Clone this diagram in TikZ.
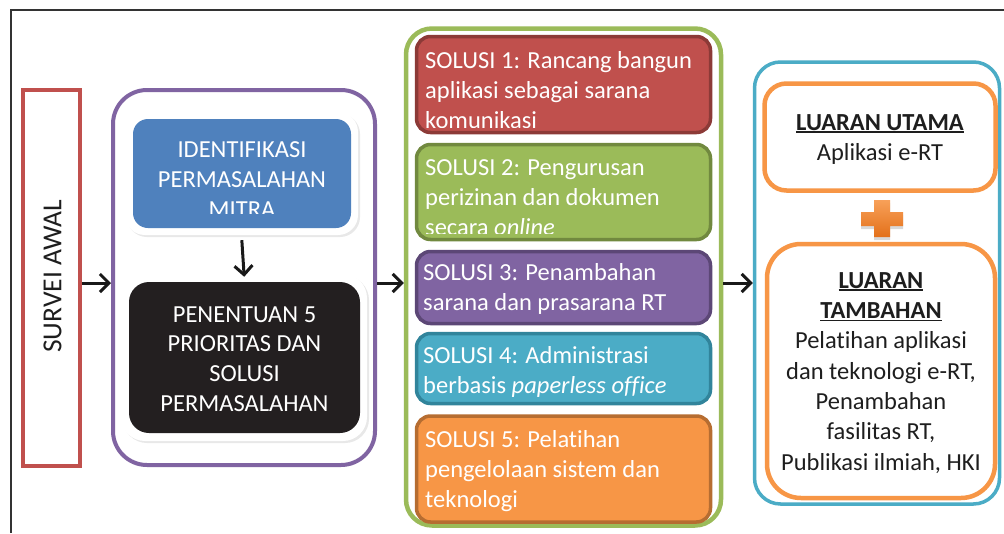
\documentclass[tikz,border=0pt]{standalone}
\usepackage{fontspec}
\setmainfont[Ligatures={NoCommon}]{Carlito}
\usetikzlibrary{arrows.meta,shadows}
\definecolor{redC}{HTML}{C0504D}
\definecolor{redD}{HTML}{8C3A37}
\definecolor{greenC}{HTML}{9BBB59}
\definecolor{greenD}{HTML}{71893F}
\definecolor{purpleC}{HTML}{8064A2}
\definecolor{purpleD}{HTML}{5C4776}
\definecolor{aquaC}{HTML}{4BACC6}
\definecolor{aquaD}{HTML}{31849B}
\definecolor{orangeC}{HTML}{F79646}
\definecolor{orangeD}{HTML}{B66D31}
\definecolor{orangeE}{HTML}{E3701A}
\definecolor{blueC}{HTML}{4F81BD}
\definecolor{blackC}{HTML}{231F20}
\definecolor{frameC}{HTML}{333333}
\definecolor{textC}{HTML}{1E1E1E}
\newcommand\fsmain{\fontsize{24.5}{30}\selectfont}
\newcommand\fsblack{\fontsize{24.5}{29.6}\selectfont}
\newcommand\fsright{\fontsize{24.5}{30.3}\selectfont}
\newcommand\strt{\rule{0pt}{17pt}}
\newcommand\myul[1]{\setbox0\hbox{#1}\rlap{\rule[-2.6pt]{\wd0}{1.6pt}}\box0}
\begin{document}
\begin{tikzpicture}[x=1pt,y=-1pt,
  cont/.style={draw=#1, line width=4, inner sep=0},
  arr/.style={line width=3, draw=black!90, -{Straight Barb[length=9pt,width=18pt,line width=3pt]}},
  glow/.style={fill=white, inner sep=0, drop shadow={opacity=0.18, shadow xshift=2pt, shadow yshift=-2pt}},
  wtext/.style={text=white, inner sep=0, font=\fsmain},
  solbox/.style={fill=#1C, draw=#1D, line width=3.5, rounded corners=14, minimum width=294, inner sep=0},
  soltext/.style={text=white, inner sep=0, font=\fsmain, align=left, anchor=north west},
  obox/.style={draw=orangeC, line width=4.5, inner sep=0},
  rtext/.style={text=textC, inner sep=0, font=\fsright, align=center, anchor=north}]
\useasboundingbox (0,0) rectangle (1004,533);
\fill[white] (0,0) rectangle (1004,533);
% outer frame
\draw[frameC, line width=1.6] (11,533) -- (11,10) -- (1004,10);

% survei awal
\node[cont=redC, minimum width=57, minimum height=376] (survei) at (51.5,277.5) {};
\node[rotate=90, inner sep=0, text=textC, font=\fontsize{27.5}{30}\selectfont] (surveit) at (52.5,276.5) {SURVEI AWAL};

% purple container
\node[cont=purpleC, rounded corners=34, minimum width=262, minimum height=375] (prob) at (244,277.5) {};
\node[glow, rounded corners=20, minimum width=233, minimum height=123] (identf) at (241.5,173.5) {};
\node[fill=blueC, rounded corners=15, minimum width=218, minimum height=109, inner sep=0] (ident) at (242,173.5) {};
\begin{scope}
\clip (133,119) rectangle (351,213);
\node[wtext, align=center, anchor=north] (identt) at (242,140) {\strt IDENTIFIKASI\\PERMASALAHAN\\MITRA};
\end{scope}
\node[glow, rounded corners=24, minimum width=246, minimum height=167] (pentf) at (244,357.5) {};
\node[fill=blackC, rounded corners=20, minimum width=231, minimum height=151, inner sep=0] (pent) at (244.5,357.5) {};
\node[wtext, font=\fsblack, align=center, anchor=north] (pentt) at (244.5,305) {\strt PENENTUAN 5\\PRIORITAS DAN\\SOLUSI\\PERMASALAHAN};

% green container
\node[cont=greenC, line width=4.5, rounded corners=26, minimum width=315, minimum height=497] (sol) at (563.5,277) {};
\node[solbox=red, minimum height=96] (s1) at (563.5,84.5) {};
\begin{scope}
\clip (419,39) rectangle (708,127.5);
\node[soltext] (s1t) at (425,51) {\strt SOLUSI 1: Rancang bangun\\aplikasi sebagai sarana\\komunikasi};
\end{scope}
\node[solbox=green, minimum height=95] (s2) at (563.5,192) {};
\begin{scope}
\clip (419,147) rectangle (708,233.5);
\node[soltext] (s2t) at (425,158) {\strt SOLUSI 2: Pengurusan\\perizinan dan dokumen\\secara \textit{online}};
\end{scope}
\node[solbox=purple, minimum height=72] (s3) at (563.5,287.5) {};
\node[soltext] (s3t) at (423,263) {\strt SOLUSI 3: Penambahan\\sarana dan prasarana RT};
\node[solbox=aqua, minimum height=70] (s4) at (563.5,368.5) {};
\node[soltext] (s4t) at (423,346) {\strt SOLUSI 4: Administrasi\\berbasis \textit{paperless office}};
\node[solbox=orange, minimum height=106] (s5) at (563.5,469) {};
\begin{scope}
\clip (419,419) rectangle (708,517.5);
\node[soltext] (s5t) at (425,430) {\strt SOLUSI 5: Pelatihan\\pengelolaan sistem dan\\teknologi};
\end{scope}

% blue container (outputs)
\node[cont=aquaC, line width=3.5, rounded corners=26, minimum width=245, minimum height=442] (out) at (877,283) {};
\node[obox, fill=white, rounded corners=22, minimum width=231, minimum height=107] (utama) at (880,137) {};
\node[rtext] (utamat) at (880,113) {\strt\myul{\textbf{LUARAN UTAMA}}\\Aplikasi e-RT};
\node[obox, fill=white, rounded corners=34, minimum width=228, minimum height=254] (tambah) at (881,371) {};
\node[rtext] (tambaht) at (881,271) {\strt\myul{\textbf{LUARAN}}\\\myul{\textbf{TAMBAHAN}}\\Pelatihan aplikasi\\dan teknologi e-RT,\\Penambahan\\fasilitas RT,\\Publikasi ilmiah, HKI};

% plus sign
\shade[top color=orangeC!90!white, bottom color=orangeE,
  drop shadow={opacity=0.3, shadow xshift=0pt, shadow yshift=-3pt}]
  (874,200) -- (890,200) -- (890,212) -- (903,212) -- (903,226) -- (890,226)
  -- (890,237) -- (874,237) -- (874,226) -- (861,226) -- (861,212) -- (874,212) -- cycle;

% connectors
\coordinate (row) at (0,283);
\draw[arr] (survei.east |- row) -- (prob.west |- row);
\draw[arr] (prob.east |- row) -- (sol.west |- row);
\draw[arr] (sol.east |- row) -- (out.west |- row);
\draw[arr, shorten <=5pt, shorten >=-3pt] (identf.south) -- (pentf.north);
\end{tikzpicture}
\end{document}
